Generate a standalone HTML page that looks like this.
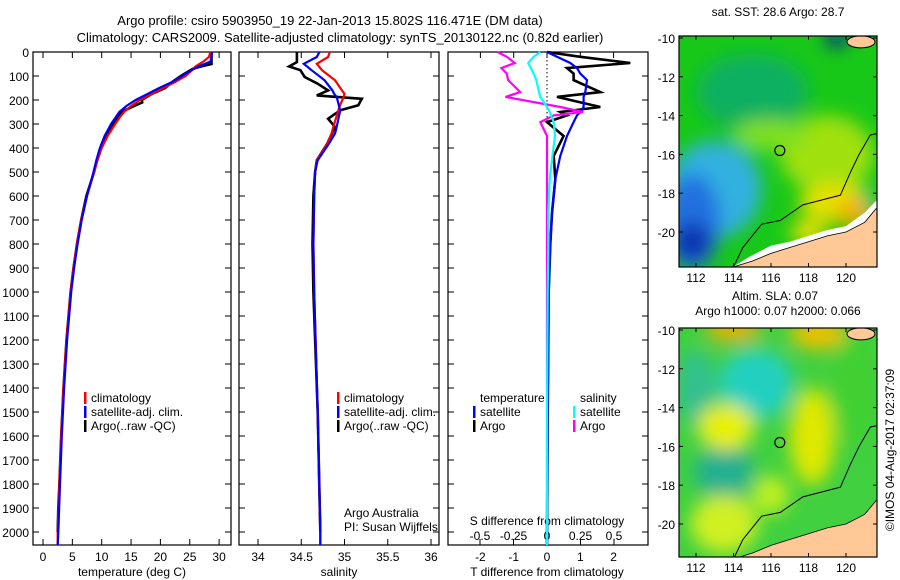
<!DOCTYPE html>
<html><head><meta charset="utf-8">
<style>
body{margin:0;background:#fff;}
svg{display:block;font-family:"Liberation Sans",sans-serif;font-size:12px;}
</style></head>
<body>
<svg id="fig" width="900" height="580" viewBox="0 0 900 580" xmlns="http://www.w3.org/2000/svg">
<rect width="900" height="580" fill="#fff"/>
<text x="330" y="25" text-anchor="middle" font-size="13">Argo profile: csiro 5903950_19 22-Jan-2013 15.802S 116.471E (DM data)</text>
<text x="340" y="42" text-anchor="middle" font-size="13">Climatology: CARS2009. Satellite-adjusted climatology: synTS_20130122.nc (0.82d earlier)</text>
<g id="plots"></g>
<g id="maps"></g>
</svg>
<script>
// ---- profile data ----
const tDepths=[0,20,40,60,80,100,125,150,175,200,225,250,275,300,350,400,450,500,600,700,800,900,1000,1200,1400,1600,1800,2000,2054];
const tempClim=[28.5,28.3,27.3,26.0,25.2,24.3,22.5,20.5,18.5,16.5,15.0,13.8,13.0,12.3,11.0,10.0,9.3,8.7,7.5,6.5,5.8,5.2,4.7,4.0,3.5,3.1,2.8,2.5,2.5];
const tempSat=[28.8,28.7,28.5,26.5,25.0,23.7,22.0,19.8,17.8,15.8,14.2,13.0,12.3,11.6,10.5,9.7,9.1,8.6,7.5,6.6,5.9,5.3,4.8,4.1,3.6,3.2,2.9,2.6,2.5];
const aDepths=[0,50,60,70,100,125,150,175,200,210,225,250,275,300,350,400,450,500,600,700,800,900,1000,1200,1400,1600,1800,1900,2000];
const tempArgo=[28.7,28.7,27.0,25.5,23.5,22.0,20.8,18.5,16.8,16.9,15.5,13.3,12.8,12.0,10.8,9.9,9.2,8.7,7.4,6.5,5.8,5.2,4.7,4.0,3.5,3.1,2.8,2.6,2.5];
const sDepths=[0,21,49,76,118,160,174,188,229,243,312,340,382,451,500,600,800,1000,1500,2000,2054];
const salClim=[34.83,34.81,34.68,34.74,34.89,34.97,35.0,34.99,34.94,34.93,34.87,34.85,34.80,34.68,34.66,34.65,34.64,34.65,34.69,34.72,34.72];
const salSat=[34.71,34.68,34.53,34.62,34.77,34.86,34.88,34.91,34.94,34.95,34.91,34.89,34.82,34.69,34.66,34.65,34.64,34.65,34.69,34.72,34.72];
const saDepths=[0,42,60,76,104,132,160,181,195,222,243,278,312,382,451,500,600,800,1000,1500,2000];
const salArgo=[34.45,34.45,34.36,34.49,34.54,34.69,34.81,34.68,35.2,35.16,34.95,34.81,34.89,34.80,34.68,34.66,34.64,34.63,34.64,34.69,34.72];
// differences
const dDepths=[0,20,46,67,90,117,167,187,229,250,264,292,350,433,530,670,800,1000,1500,2054];
const tDiffArgo=[0,1.0,2.5,0.6,0.8,0.8,1.6,0.3,1.6,0.4,0.6,0,0.5,0.2,0.25,0.15,0.1,0.05,0.02,0];
const tDiffSat=[0,0.3,0.7,0.9,1.0,1.2,1.15,1.1,1.1,1.0,0.9,0.8,0.6,0.4,0.25,0.15,0.1,0.05,0.02,0];
const sDiffArgo=[-0.37,-0.3,-0.24,-0.34,-0.3,-0.29,-0.2,-0.31,0.1,0.27,0.05,-0.05,0,0,0,0,0,0,0,0];
const sDiffSat=[-0.05,-0.1,-0.14,-0.12,-0.1,-0.08,-0.06,-0.05,0.0,0.02,0.03,0.05,0.06,0.04,0.02,0.01,0.01,0.005,0,0];
const depthTicks=[0,100,200,300,400,500,600,700,800,900,1000,1100,1200,1300,1400,1500,1600,1700,1800,1900,2000];
const tempTicks=[0,5,10,15,20,25,30];
const salTicks=[34,34.5,35,35.5,36];
const tdTicks=[-2,-1,0,1,2];
const sdTicks=[-0.5,-0.25,0,0.25,0.5];
const sdTickLabels=["-0.5","-0.25","0","0.25","0.5"];

const NS="http://www.w3.org/2000/svg";
const plots=document.getElementById('plots');
function mk(tag,attrs,parent){const e=document.createElementNS(NS,tag);for(const k in attrs)e.setAttribute(k,attrs[k]);(parent||plots).appendChild(e);return e;}
const y0=52,yTop=52,yBot=545;
const yD=d=>y0+d*0.24;
const xT=v=>43+v*5.87;
const xS=v=>258+(v-34)*86.5;
const xTD=v=>547+v*33.3;
const xSD=v=>547+v*134;
const panels=[[33,231],[239,439],[448,648]];

function poly(xs,ds,fx,color,name,w){
  const pts=xs.map((v,i)=>fx(v).toFixed(1)+','+yD(ds[i]).toFixed(1)).join(' ');
  const p=mk('polyline',{points:pts,fill:'none',stroke:color,'stroke-width':w||2.2});
  
  
}
function txt(x,y,s,anchor,name,size){
  const t=mk('text',{x:x,y:y,'text-anchor':anchor||'start','font-size':size||12});
  t.textContent=s;
  
  
  return t;
}
panels.forEach((p,i)=>{
  const r=mk('rect',{x:p[0],y:yTop,width:p[1]-p[0],height:yBot-yTop,fill:'none',stroke:'#000','stroke-width':1.2});
  
  
  depthTicks.forEach(d=>{
    mk('line',{x1:p[0],x2:p[0]+6,y1:yD(d),y2:yD(d),stroke:'#000'});
    mk('line',{x1:p[1]-6,x2:p[1],y1:yD(d),y2:yD(d),stroke:'#000'});
  });
});
depthTicks.forEach(d=>txt(29,yD(d)+5,String(d),'end','depth-tick-label'));
tempTicks.forEach(v=>{mk('line',{x1:xT(v),x2:xT(v),y1:yBot-6,y2:yBot,stroke:'#000'});mk('line',{x1:xT(v),x2:xT(v),y1:yTop,y2:yTop+6,stroke:'#000'});txt(xT(v),561,String(v),'middle','temp-tick-label');});
salTicks.forEach(v=>{mk('line',{x1:xS(v),x2:xS(v),y1:yBot-6,y2:yBot,stroke:'#000'});mk('line',{x1:xS(v),x2:xS(v),y1:yTop,y2:yTop+6,stroke:'#000'});txt(xS(v),561,String(v),'middle','salinity-tick-label');});
tdTicks.forEach(v=>{mk('line',{x1:xTD(v),x2:xTD(v),y1:yTop,y2:yTop+6,stroke:'#000'});txt(xTD(v),561,String(v),'middle','tdiff-tick-label');});
sdTicks.forEach((v,i)=>{mk('line',{x1:xSD(v),x2:xSD(v),y1:yBot-6,y2:yBot,stroke:'#000'});txt(xSD(v),540,sdTickLabels[i],'middle','sdiff-tick-label');});
txt(132,576,'temperature (deg C)','middle','temperature-axis-title');
txt(339,576,'salinity','middle','salinity-axis-title');
txt(547,576,'T difference from climatology','middle','tdiff-axis-title');
txt(547,525,'S difference from climatology','middle','sdiff-axis-title');
const zl=mk('line',{x1:xTD(0),x2:xTD(0),y1:yTop,y2:yD(300),stroke:'#000','stroke-dasharray':'1.5,2.5'});

poly(tempArgo,aDepths,xT,'#000','temp-argo-line',2.6);
poly(tempClim,tDepths,xT,'#f00','temp-clim-line');
poly(tempSat,tDepths,xT,'#00f','temp-sat-line');
poly(salArgo,saDepths,xS,'#000','sal-argo-line',2.6);
poly(salClim,sDepths,xS,'#f00','sal-clim-line');
poly(salSat,sDepths,xS,'#00f','sal-sat-line');
poly(tDiffArgo,dDepths,xTD,'#000','tdiff-argo-line',2.6);
poly(tDiffSat,dDepths,xTD,'#00f','tdiff-sat-line');
poly(sDiffArgo,dDepths,xSD,'#f0f','sdiff-argo-line');
poly(sDiffSat,dDepths,xSD,'#0ff','sdiff-sat-line');
function leg(x,y,c,s,name){mk('rect',{x:x,y:y-10,width:2.5,height:12,fill:c});txt(x+7,y,s,'start',name);}
[[84,'#f00','climatology'],[84,'#00f','satellite-adj. clim.'],[84,'#000','Argo(..raw -QC)']].forEach((l,i)=>leg(l[0],402+i*14,l[1],l[2],'legend-temp-entry'));
[[337,'#f00','climatology'],[337,'#00f','satellite-adj. clim.'],[337,'#000','Argo(..raw -QC)']].forEach((l,i)=>leg(l[0],402+i*14,l[1],l[2],'legend-sal-entry'));
txt(480,402,'temperature','start','legend-temperature-heading');
txt(580,402,'salinity','start','legend-salinity-heading');
leg(473,416,'#00f','satellite','legend-tdiff-sat');
leg(473,430,'#000','Argo','legend-tdiff-argo');
leg(573,416,'#0ff','satellite','legend-sdiff-sat');
leg(573,430,'#f0f','Argo','legend-sdiff-argo');
txt(344,517,'Argo Australia','start','credit-argo-australia');
txt(344,531,'PI: Susan Wijffels','start','credit-pi');

// ---- maps ----
const maps=document.getElementById('maps');
function mm(tag,attrs,parent){const e=document.createElementNS(NS,tag);for(const k in attrs)e.setAttribute(k,attrs[k]);(parent||maps).appendChild(e);return e;}
const defs=mm('defs',{});
defs.innerHTML='<filter id="bl" x="-50%" y="-50%" width="200%" height="200%"><feGaussianBlur stdDeviation="9"/></filter><clipPath id="c1"><rect x="679" y="36" width="198" height="231"/></clipPath><clipPath id="c2"><rect x="679" y="328" width="198" height="229"/></clipPath>';
const mapLonTicks=[112,114,116,118,120];
const mapLatTicks=[-10,-12,-14,-16,-18,-20];
const landLon=[114,115,116,117,118,119,120,121,121.6,121.8,121.8,114];
const landLat=[-21.8,-21.5,-21.1,-20.8,-20.5,-20.2,-20.0,-19.5,-18.8,-18.7,-21.9,-21.9];
const gapLon=[113.8,114.8,116,117,118,119,120,121,121.8,121.8,121,120,119,118,117,116,115,114.2];
const gapLat=[-21.9,-21.3,-20.7,-20.5,-20.2,-19.9,-19.7,-19.0,-18.2,-18.8,-19.5,-20.0,-20.2,-20.5,-20.8,-21.1,-21.5,-21.9];
const shelfLon=[114,114.5,115.5,116.5,117.7,118.5,119.7,120.2,120.7,121.3,121.8];
const shelfLat=[-21.8,-20.8,-19.6,-19.4,-18.6,-18.4,-18.1,-17.0,-16.0,-15.0,-14.9];
const argoLon=116.47, argoLat=-15.8;
function drawMap(top,clip,blobs,name,base,gap){
  const h=(clip=='c1'?231:229);
  const lx=l=>696+(l-112)*18.75, ly=l=>top+2+(-l-10)*19.4;
  const g=mm('g',{'clip-path':'url(#'+clip+')'});
  
  mm('rect',{x:679,y:top,width:198,height:h,fill:base},g);
  const gb=mm('g',{filter:'url(#bl)'},g);
  blobs.forEach(b=>mm('ellipse',{cx:lx(b[0]),cy:ly(b[1]),rx:b[2]*18.75,ry:b[3]*19.4,fill:b[4]},gb));
  if(gap) mm('polygon',{points:gapLon.map((l,i)=>lx(l)+','+ly(gapLat[i])).join(' '),fill:'#fff'},g);
  mm('polygon',{points:landLon.map((l,i)=>lx(l)+','+ly(landLat[i])).join(' '),fill:'#ffc896',stroke:'#000','stroke-width':0.8},g);
  mm('ellipse',{cx:lx(120.8),cy:ly(-10.2),rx:14,ry:6,fill:'#ffc896',stroke:'#000'},g);
  mm('polyline',{points:shelfLon.map((l,i)=>lx(l)+','+ly(shelfLat[i])).join(' '),fill:'none',stroke:'#000','stroke-width':1},g);
  const c=mm('circle',{cx:lx(argoLon),cy:ly(argoLat),r:5,fill:'none',stroke:'#000','stroke-width':1.2});
  
  mm('rect',{x:679,y:top,width:198,height:h,fill:'none',stroke:'#000','stroke-width':1.2});
  mapLonTicks.forEach(l=>{mm('line',{x1:lx(l),x2:lx(l),y1:top,y2:top+4,stroke:'#000'});mm('line',{x1:lx(l),x2:lx(l),y1:top+h-4,y2:top+h,stroke:'#000'});
    const t=mm('text',{x:lx(l),y:top+h+15,'text-anchor':'middle'});t.textContent=l;
    });
  mapLatTicks.forEach(l=>{mm('line',{x1:679,x2:683,y1:ly(l),y2:ly(l),stroke:'#000'});mm('line',{x1:873,x2:877,y1:ly(l),y2:ly(l),stroke:'#000'});
    const t=mm('text',{x:675,y:ly(l)+5,'text-anchor':'end'});t.textContent=l;
    });
}
drawMap(36,'c1',[
 [115,-12.8,3,2,'#10b060'],[113,-17.8,2.5,2.5,'#30b0e0'],[111.8,-19.5,1.5,2.5,'#2070e0'],[111.8,-20.5,1,1,'#1030b0'],
 [119,-16,2.5,2,'#a0e010'],[119.5,-18.5,2,1,'#e8e000'],[120.5,-19,1,0.8,'#f0b000'],[116,-15,2,0.8,'#80e020'],
 [118,-20,1,0.6,'#f0e000'],[119.5,-10,0.6,0.4,'#0010a0'],[121.3,-18.4,0.4,0.4,'#10c090']
],'sst-map','#18c818',true);
drawMap(328,'c2',[
 [114,-10,1.5,0.6,'#f0b000'],[118.5,-10.2,1.5,0.8,'#f0c000'],[115.2,-12.8,2,1.8,'#20d0c0'],[112,-13,1,2,'#30c090'],
 [113.5,-17.3,1.6,1.4,'#20b090'],[113.6,-15,1.5,1.2,'#e8f000'],[118.2,-15.5,1.2,2.5,'#e0e800'],[113.5,-20,1.8,1.5,'#d0f020'],
 [116,-18.5,1,1,'#c0f020'],[120.5,-13,1.2,3,'#40d030']
],'sla-map','#40d040',false);
function mt(x,y,s,name,extra){const t=mm('text',Object.assign({x:x,y:y,'text-anchor':'middle'},extra||{}));t.textContent=s;}
mt(778,16,'sat. SST: 28.6 Argo: 28.7','sst-map-title');
mt(775,300,'Altim. SLA: 0.07','sla-map-title');
mt(778,315,'Argo h1000: 0.07 h2000: 0.066','sla-map-subtitle');
mt(0,0,'©IMOS 04-Aug-2017 02:37:09','timestamp-credit',{transform:'translate(894,450) rotate(-90)'});
</script>
</body></html>
